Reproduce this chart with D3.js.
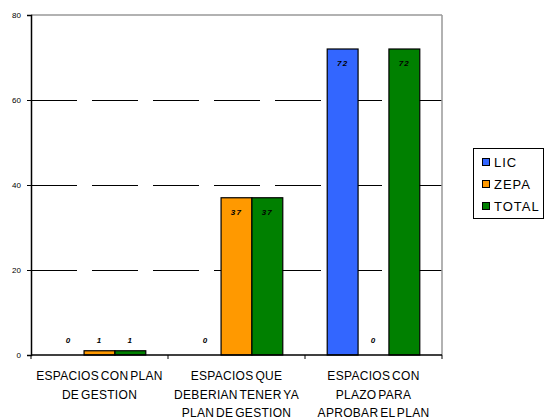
<!DOCTYPE html>
<html>
<head>
<meta charset="utf-8">
<script src="https://cdn.jsdelivr.net/npm/d3@7"></script>
<style>
  body { margin: 0; background: #fff; }
  svg { display: block; font-family: "Liberation Sans", Arial, sans-serif; }
</style>
</head>
<body>
<svg id="chart" width="544" height="420"></svg>
<script>
const categories = [
  ["ESPACIOS CON PLAN", "DE GESTION"],
  ["ESPACIOS QUE", "DEBERIAN TENER YA", "PLAN DE GESTION"],
  ["ESPACIOS CON", "PLAZO PARA", "APROBAR EL PLAN"]
];
const categoryKeys = ["c1", "c2", "c3"];
const seriesNames = ["LIC", "ZEPA", "TOTAL"];
const licValues = [0, 0, 72];
const zepaValues = [1, 37, 0];
const totalValues = [1, 37, 72];
const seriesColors = ["#3366ff", "#ff9900", "#008000"];
const yTicks = [0, 20, 40, 60, 80];

const seriesValues = [licValues, zepaValues, totalValues];

const svg = d3.select("#chart");
const plotLeft = 31, plotRight = 442, plotTop = 15, plotBottom = 355;

const x0 = d3.scaleBand().domain(categoryKeys).range([plotLeft, plotRight]).padding(0);
const x1 = d3.scaleBand().domain(seriesNames).range([0, x0.bandwidth()])
  .paddingInner(0).paddingOuter(0.72);
const y = d3.scaleLinear().domain([0, 80]).range([plotBottom, plotTop]);

// gridlines (dashed)
svg.append("g").selectAll("line").data(yTicks.filter(d => d > 0 && d < 80)).join("line")
  .attr("x1", plotLeft).attr("x2", plotRight)
  .attr("y1", d => y(d)).attr("y2", d => y(d))
  .attr("stroke", "#000").attr("stroke-width", 1)
  .attr("stroke-dasharray", "46,15")
  .attr("shape-rendering", "crispEdges");

// plot border top/right (gray)
svg.append("line").attr("x1", plotLeft).attr("x2", plotRight).attr("y1", y(80)).attr("y2", y(80))
  .attr("stroke", "#999").attr("stroke-width", 1.5);
svg.append("line").attr("x1", plotRight).attr("x2", plotRight).attr("y1", y(80)).attr("y2", y(0))
  .attr("stroke", "#999").attr("stroke-width", 1.5);

// bars
const groups = svg.append("g").selectAll("g").data(categoryKeys).join("g")
  .attr("transform", d => `translate(${x0(d)},0)`);

groups.each(function(cat, ci) {
  const g = d3.select(this);
  seriesNames.forEach((s, si) => {
    const v = seriesValues[si][ci];
    if (v > 0) {
      g.append("rect")
        .attr("x", x1(s)).attr("width", x1.bandwidth())
        .attr("y", y(v)).attr("height", y(0) - y(v))
        .attr("fill", seriesColors[si])
        .attr("stroke", "#000").attr("stroke-width", 1.2);
    }
    const inside = (y(0) - y(v)) > 30;
    g.append("text")
      .attr("x", x1(s) + x1.bandwidth() / 2)
      .attr("y", inside ? y(v) + 17 : y(0) - 12)
      .attr("text-anchor", "middle")
      .attr("font-size", 8).attr("font-weight", "bold").attr("font-style", "italic")
      .attr("letter-spacing", 1.2)
      .attr("fill", "#000")
      .text(v);
  });
});

// y axis
const yAxis = svg.append("g").attr("transform", `translate(${plotLeft},0)`)
  .call(d3.axisLeft(y).tickValues(yTicks).tickSize(4).tickPadding(6));
yAxis.select(".domain").attr("stroke", "#000").attr("stroke-width", 1.5);
yAxis.selectAll(".tick line").attr("stroke", "#000");
yAxis.selectAll(".tick text").attr("font-size", 8).attr("font-family", "Liberation Sans, Arial, sans-serif").attr("fill", "#000");

// x axis
svg.append("line").attr("x1", plotLeft).attr("x2", plotRight).attr("y1", y(0)).attr("y2", y(0))
  .attr("stroke", "#000").attr("stroke-width", 1.5);
const bounds = categoryKeys.map(k => x0(k)).concat([plotRight]);
svg.append("g").selectAll("line").data(bounds).join("line")
  .attr("x1", d => d).attr("x2", d => d).attr("y1", y(0)).attr("y2", y(0) + 4)
  .attr("stroke", "#000");

// category labels
categoryKeys.forEach((k, i) => {
  const t = svg.append("text")
    .attr("x", x0(k) + x0.bandwidth() / 2)
    .attr("text-anchor", "middle")
    .attr("font-size", 12)
    .attr("word-spacing", -1.8)
    .attr("letter-spacing", 0.3)
    .attr("fill", "#000");
  categories[i].forEach((line, li) => {
    t.append("tspan").attr("x", x0(k) + x0.bandwidth() / 2)
      .attr("y", 380 + li * 18.5).text(line);
  });
});

// legend
const lg = svg.append("g");
lg.append("rect").attr("x", 473.5).attr("y", 148.5).attr("width", 70).attr("height", 70)
  .attr("fill", "#fff").attr("stroke", "#000").attr("stroke-width", 1);
seriesNames.forEach((s, i) => {
  const cy = 162 + i * 22;
  lg.append("rect").attr("x", 482.5).attr("y", cy - 3.5).attr("width", 7).attr("height", 7)
    .attr("fill", seriesColors[i]).attr("stroke", "#000").attr("stroke-width", 1);
  lg.append("text").attr("x", 494).attr("y", cy + 4.5)
    .attr("font-size", 13).attr("letter-spacing", 1).attr("fill", "#000").text(s);
});
</script>
</body>
</html>
